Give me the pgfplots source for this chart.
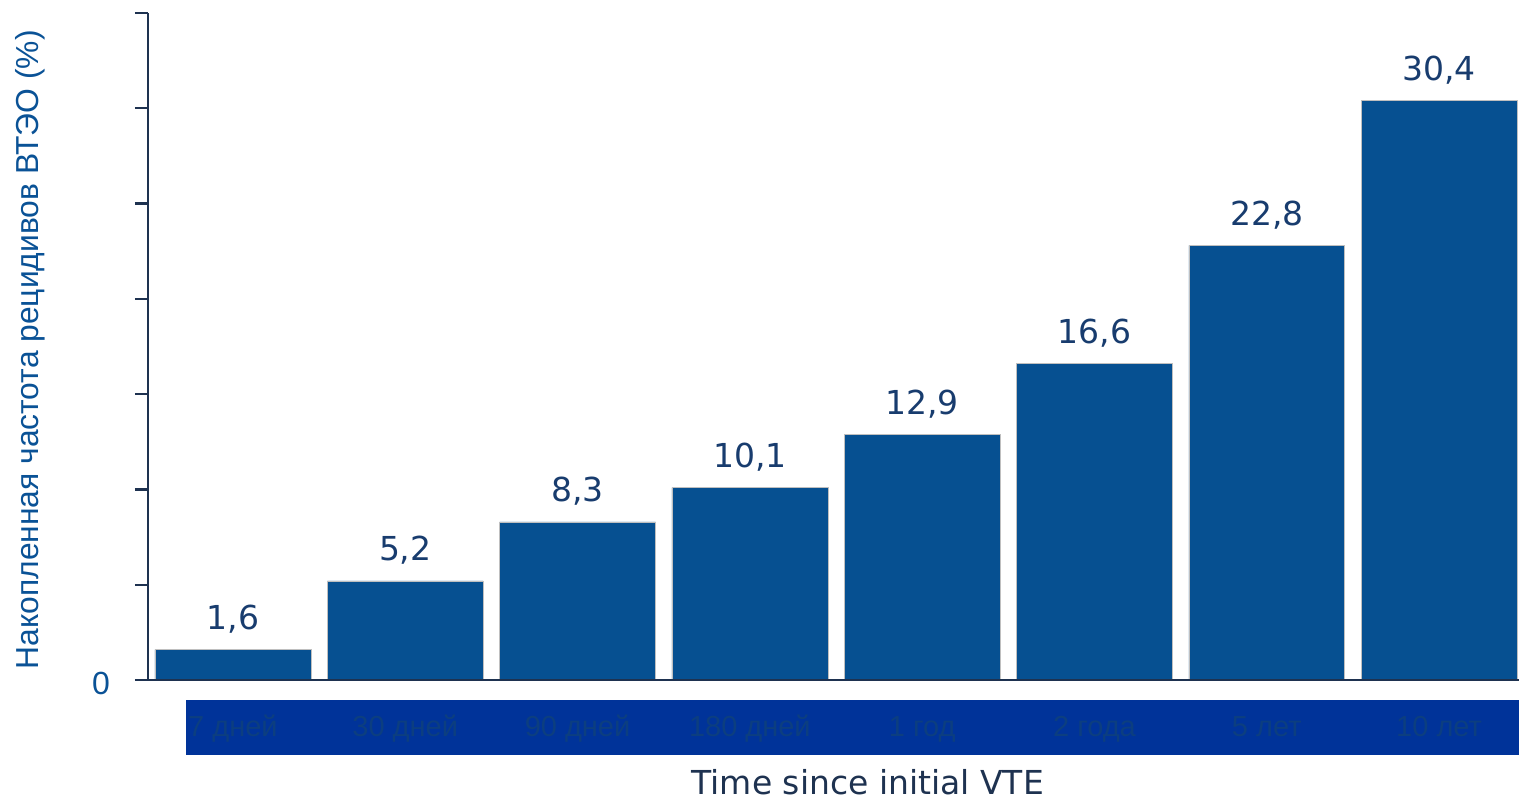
\documentclass[border=0pt]{standalone}
\usepackage{pgfplots}
\pgfplotsset{compat=1.18}
\usepackage{fontspec}
\setmainfont{Liberation Sans}
\newfontfamily\numfont{DejaVu Sans}

\definecolor{barblue}{RGB}{6,80,145}
\definecolor{bandblue}{RGB}{0,51,153}
\definecolor{catblue}{RGB}{12,62,128}
\definecolor{valblue}{RGB}{24,60,110}
\definecolor{ylabblue}{RGB}{10,82,150}
\definecolor{axisnavy}{RGB}{30,50,80}

% cumulative recurrence, %
\pgfplotstableread{
x  y
0  1.6
1  5.2
2  8.3
3  10.1
4  12.9
5  16.6
6  22.8
7  30.4
}\recurrence

\begin{document}
\begin{tikzpicture}
\useasboundingbox (-74pt,-60.5pt) rectangle (685.5pt,340pt);
\begin{axis}[
  axis on top,
  at={(0pt,0pt)}, anchor=south west,
  scale only axis, width=685.5pt, height=333.5pt,
  xmin=-0.493, xmax=7.464, ymin=0, ymax=35,
  axis x line*=bottom, axis y line*=left,
  axis line style={-, draw=axisnavy, line width=1.25pt},
  every tick/.style={draw=axisnavy, line width=1.1pt},
  tick align=outside, major tick length=6.5pt,
  ytick={0,5,...,35},
  yticklabels={0,{},{},{},{},{},{},{}},
  yticklabel style={font=\fontsize{16}{18}\selectfont, text=ylabblue, xshift=-9pt, yshift=-1.5pt},
  xtick=data,
  xtick style={draw=none},
  xticklabels={7 дней,30 дней,90 дней,180 дней,1 год,2 года,5 лет,10 лет},
  xticklabel style={font=\fontsize{14.5}{16}\selectfont, text=catblue, anchor=base, yshift=-22pt},
  xlabel={Time since initial VTE},
  xlabel style={at={(axis description cs:0.525,0)}, anchor=base, yshift=-57.5pt,
    font=\numfont\fontsize{16.5}{18}\selectfont, text=axisnavy},
  ylabel={Накопленная частота рецидивов ВТЭО (\%)},
  ylabel style={at={(axis description cs:-0.0802,0.495)}, anchor=base,
    font=\fontsize{15.9}{18}\selectfont, text=ylabblue},
  clip=false,
  ybar, bar width=0.905,
  nodes near coords={\pgfmathprintnumber[fixed,fixed zerofill,precision=1,use comma,assume math mode=true]{\pgfplotspointmeta}},
  every node near coord/.append style={anchor=base, yshift=10pt,
    font=\numfont\fontsize{16.5}{18}\selectfont, text=valblue},
]
\fill[bandblue] (axis cs:-0.273,-1.05) rectangle (axis cs:7.464,-3.93);
\addplot[fill=barblue, draw=black!25, line width=0.3pt] table[x=x,y=y] {\recurrence};
\end{axis}
\end{tikzpicture}
\end{document}
